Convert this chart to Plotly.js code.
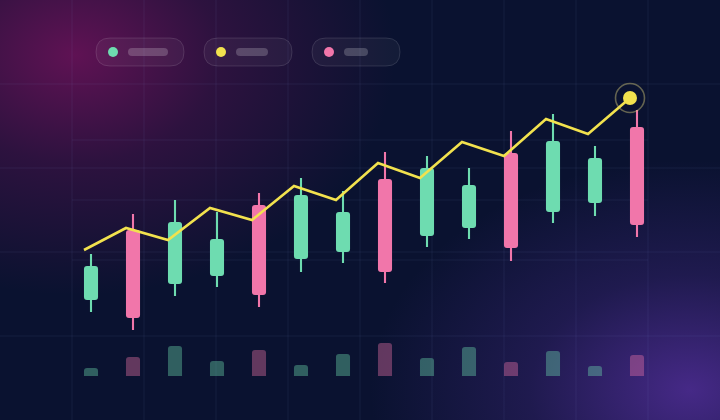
<!DOCTYPE html>
<html>
<head>
<meta charset="utf-8">
<script src="https://cdn.plot.ly/plotly-3.0.1.min.js"></script>
<style>
  html, body { margin: 0; padding: 0; background: #0a1230; }
  #chart {
    width: 720px; height: 420px;
    background:
      radial-gradient(ellipse 320px 240px at 75px 55px, rgba(110,18,90,0.85), rgba(110,18,90,0.35) 45%, rgba(110,18,90,0) 100%),
      radial-gradient(ellipse 320px 230px at 690px 390px, rgba(80,45,150,0.85), rgba(80,45,150,0.3) 50%, rgba(80,45,150,0) 100%),
      #0a1230;
  }
</style>
</head>
<body>
<div id="chart"></div>
<script>
// ---- data ----
const days    = ["D1","D2","D3","D4","D5","D6","D7","D8","D9","D10","D11","D12","D13","D14"];
const opens   = [50, 85, 58, 62, 97.5, 70.5, 74, 110.5, 82, 86, 123.5, 94, 98.5, 136.5];
const closes  = [67, 41, 89, 80.5, 52.5, 102.5, 94, 64, 116, 107.5, 76, 129.5, 121, 87.5];
const highs   = [73, 93, 100, 94, 103.5, 111, 104.5, 124, 122, 116, 134.5, 143, 127, 145];
const lows    = [44, 35, 52, 56.5, 46.5, 64, 68.5, 58.5, 76.5, 80.5, 69.5, 88.5, 92, 81.5];
const trend   = [75, 86, 80, 96, 90, 107, 100, 118.5, 111, 129, 122, 140.5, 133, 151];
const volumes = [8, 19, 30, 15, 26, 11, 22, 33, 18, 29, 14, 25, 10, 21];

// ---- styles ----
const UP = "#6edcb0", DOWN = "#f176aa", LINE = "#f2e24e";
const W = 720, H = 420;

const idx = days.map((_, i) => i);
const isUp = idx.map(i => closes[i] >= opens[i]);
const candleColor = isUp.map(u => u ? UP : DOWN);
const volColor = isUp.map(u => u ? "rgba(110,220,176,0.38)" : "rgba(241,118,170,0.38)");
const lineX = idx.map(i => i - 1/6);
const last = idx.length - 1;

const traces = [
  { // wicks
    type: "bar", x: idx, base: lows, y: idx.map(i => highs[i] - lows[i]),
    width: 0.05, marker: { color: candleColor }, hoverinfo: "skip", yaxis: "y"
  },
  { // bodies
    type: "bar", x: idx, base: idx.map(i => Math.min(opens[i], closes[i])),
    y: idx.map(i => Math.abs(closes[i] - opens[i])),
    width: 0.335, marker: { color: candleColor, cornerradius: 3 }, yaxis: "y"
  },
  { // volume
    type: "bar", x: idx, y: volumes, width: 0.335,
    marker: { color: volColor, cornerradius: 3 }, yaxis: "y2"
  },
  { // trend line
    type: "scatter", mode: "lines", x: lineX, y: trend,
    line: { color: LINE, width: 2.6 }, yaxis: "y"
  },
  { // last point ring
    type: "scatter", mode: "markers", x: [lineX[last]], y: [trend[last]],
    marker: { size: 29, opacity: 1, color: "rgba(0,0,0,0)",
              line: { color: "rgba(210,200,120,0.45)", width: 1.6 } },
    yaxis: "y"
  },
  { // last point dot
    type: "scatter", mode: "markers", x: [lineX[last]], y: [trend[last]],
    marker: { size: 14, opacity: 1, color: LINE, line: { width: 0 } },
    yaxis: "y"
  }
];

// ---- decoration helpers (pixel -> paper) ----
const px = v => v / W, py = v => 1 - v / H;
function roundRect(x0, y0, x1, y1, r) {
  const X = px, Y = py;
  return `M${X(x0 + r)},${Y(y0)} L${X(x1 - r)},${Y(y0)} Q${X(x1)},${Y(y0)} ${X(x1)},${Y(y0 + r)} ` +
         `L${X(x1)},${Y(y1 - r)} Q${X(x1)},${Y(y1)} ${X(x1 - r)},${Y(y1)} L${X(x0 + r)},${Y(y1)} ` +
         `Q${X(x0)},${Y(y1)} ${X(x0)},${Y(y1 - r)} L${X(x0)},${Y(y0 + r)} Q${X(x0)},${Y(y0)} ${X(x0 + r)},${Y(y0)} Z`;
}
const shapes = [];
const GRID = "rgba(140,160,220,0.09)";
for (let k = 1; k <= 9; k++) {
  shapes.push({ type: "line", xref: "paper", yref: "paper", x0: px(72 * k), x1: px(72 * k), y0: 0, y1: 1,
                line: { color: GRID, width: 1 }, layer: "below" });
}
for (let k = 1; k <= 4; k++) {
  shapes.push({ type: "line", xref: "paper", yref: "paper", x0: 0, x1: 1, y0: py(84 * k), y1: py(84 * k),
                line: { color: GRID, width: 1 }, layer: "below" });
}
[140, 200, 260].forEach(y => {
  shapes.push({ type: "line", xref: "paper", yref: "paper", x0: px(72), x1: px(648), y0: py(y), y1: py(y),
                line: { color: GRID, width: 1 }, layer: "below" });
});

// legend pills
const pills = [
  { x0: 96,  x1: 184, dot: UP,   bar: [128, 168] },
  { x0: 204, x1: 292, dot: LINE, bar: [236, 268] },
  { x0: 312, x1: 400, dot: DOWN, bar: [344, 368] }
];
pills.forEach(p => {
  shapes.push({ type: "path", xref: "paper", yref: "paper", path: roundRect(p.x0, 38, p.x1, 66, 14),
                fillcolor: "rgba(255,255,255,0.045)", line: { color: "rgba(255,255,255,0.12)", width: 1 } });
  shapes.push({ type: "circle", xref: "paper", yref: "paper",
                x0: px(p.x0 + 12), x1: px(p.x0 + 22), y0: py(57), y1: py(47),
                fillcolor: p.dot, line: { width: 0 } });
  shapes.push({ type: "path", xref: "paper", yref: "paper", path: roundRect(p.bar[0], 48, p.bar[1], 56, 4),
                fillcolor: "rgba(255,255,255,0.2)", line: { width: 0 } });
});

const layout = {
  width: W, height: H,
  margin: { l: 0, r: 0, t: 0, b: 0, pad: 0 },
  paper_bgcolor: "rgba(0,0,0,0)", plot_bgcolor: "rgba(0,0,0,0)",
  barmode: "overlay", showlegend: false,
  xaxis: { range: [-91 / 42, -91 / 42 + W / 42], visible: false, fixedrange: true },
  yaxis: { range: [-10, 200], visible: false, fixedrange: true },
  yaxis2: { range: [-44, 376], visible: false, overlaying: "y", fixedrange: true },
  shapes: shapes
};

Plotly.newPlot("chart", traces, layout, { displayModeBar: false, staticPlot: true });
</script>
</body>
</html>
